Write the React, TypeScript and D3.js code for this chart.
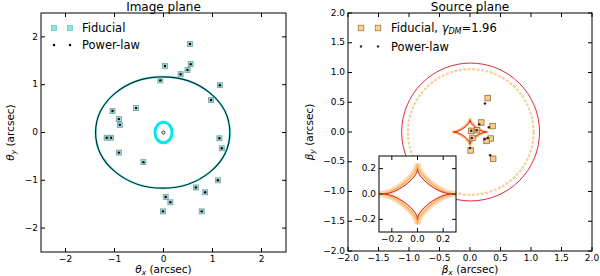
import * as d3 from "d3";

// image plane: lensed image positions (arcsec)
const imageFiducial: [number, number][] = [
  [0.54, 1.85], [0.555, 1.43], [0.03, 1.39], [0.49, 1.31], [0.35, 1.22],
  [-0.065, 1.09], [1.15, 0.99], [0.97, 0.68], [-1.04, 0.45], [-0.56, 0.51],
  [-0.91, 0.28], [-0.89, 0.16], [-1.16, -0.11], [-1.07, -0.11], [1.14, -0.12],
  [1.19, -0.33], [-0.91, -0.42], [-0.41, -0.62], [1.11, -1.0], [0.66, -1.15],
  [0.85, -1.25], [0.045, -1.35], [0.14, -1.46], [-0.01, -1.65], [0.78, -1.65],
];
const imagePowerLaw: [number, number][] = imageFiducial.map((p) => [p[0], p[1]]);
const imageCentre: [number, number] = [0, 0];

// critical curves: [cx, cy, rx, ry]
const critOuter = [-0.016, 0, 1.37, 1.165];
const critInner = [0, 0, 0.175, 0.215];

// source plane positions
const sourceFiducial: [number, number][] = [
  [0.29, 0.57], [0.185, 0.16], [0.37, 0.1], [0.115, 0.03], [0.02, 0.02],
  [0.04, -0.1], [0.34, -0.11], [0.27, -0.15], [0.01, -0.31], [0.38, -0.45],
];
const sourcePowerLaw: [number, number][] = [
  [0.245, 0.48], [0.15, 0.13], [0.31, 0.08], [0.02, 0.02], [0.11, 0.03],
  [0.03, -0.1], [0.24, -0.12], [0.29, -0.1], [0.0, -0.27], [0.33, -0.39],
];

// caustics: outer circles [cx, cy, r], astroids [a, b]
const causticRed = [0.01, 0, 1.13];
const causticFid = [0.013, 0, 1.03];
const astroidFid = [0.29, 0.23];
const astroidPL = [0.27, 0.2];
const astroidFidInset = [0.3, 0.24];

const imgTicks = [-2, -1, 0, 1, 2];
const srcTicks = [-2, -1.5, -1, -0.5, 0, 0.5, 1, 1.5, 2];
const insetTicks = [-0.2, 0, 0.2];

const FONT = "DejaVu Sans";
const minus = (s: string) => s.replace("-", "\u2212");

type Scale = d3.ScaleLinear<number, number>;

// astroid as four cubic curves between the cusps
const astroidPath = (x: Scale, y: Scale, a: number, b: number) => {
  const k = 0.61;
  const p = d3.path();
  const cusps: [number, number][] = [[a, 0], [0, b], [-a, 0], [0, -b]];
  p.moveTo(x(a), y(0));
  cusps.forEach((c, i) => {
    const n = cusps[(i + 1) % 4];
    p.bezierCurveTo(x(c[0] * k), y(c[1] * k), x(n[0] * k), y(n[1] * k), x(n[0]), y(n[1]));
  });
  p.closePath();
  return p.toString();
};

const Frame = ({ x, y, ticks, fmt, fs = 9 }: { x: Scale; y: Scale; ticks: number[]; fmt: (v: number) => string; fs?: number }) => {
  const [x0, x1] = x.range();
  const [y1, y0] = y.range();
  const tl = 4;
  return (
    <g fontFamily={FONT} fontSize={fs}>
      <rect x={x0} y={y0} width={x1 - x0} height={y1 - y0} fill="none" stroke="#000" strokeWidth={1} />
      {ticks.map((t) => (
        <g key={"x" + t}>
          <line x1={x(t)} x2={x(t)} y1={y1} y2={y1 - tl} stroke="#000" />
          <line x1={x(t)} x2={x(t)} y1={y0} y2={y0 + tl} stroke="#000" />
          <text x={x(t)} y={y1 + 10} textAnchor="middle">{minus(fmt(t))}</text>
        </g>
      ))}
      {ticks.map((t) => (
        <g key={"y" + t}>
          <line x1={x0} x2={x0 + tl} y1={y(t)} y2={y(t)} stroke="#000" />
          <line x1={x1} x2={x1 - tl} y1={y(t)} y2={y(t)} stroke="#000" />
          <text x={x0 - 3} y={y(t)} dy="0.3em" textAnchor="end">{minus(fmt(t))}</text>
        </g>
      ))}
    </g>
  );
};

const Label = ({ x, y, sym, sub, rotate }: { x: number; y: number; sym: string; sub: string; rotate?: boolean }) => (
  <text x={x} y={y} fontFamily={FONT} fontSize={10.5} textAnchor="middle" transform={rotate ? `rotate(-90 ${x} ${y})` : undefined}>
    <tspan fontStyle="italic">{sym}</tspan>
    <tspan fontStyle="italic" fontSize={7.5} dy={1.5}>{sub}</tspan>
    <tspan dy={-1.5}>{"  (arcsec)"}</tspan>
  </text>
);

export default function App() {
  const ix = d3.scaleLinear().domain([-2.5, 2.5]).range([41, 286]);
  const iy = d3.scaleLinear().domain([-2.5, 2.5]).range([252, 13]);
  const sx = d3.scaleLinear().domain([-2, 2]).range([348, 592]);
  const sy = d3.scaleLinear().domain([-2, 2]).range([251, 13]);
  const nx = d3.scaleLinear().domain([-0.3, 0.3]).range([379, 456]);
  const ny = d3.scaleLinear().domain([-0.3, 0.3]).range([232, 156]);

  const sq = 5;
  const ell = (x: Scale, y: Scale, e: number[]) => ({
    cx: x(e[0]), cy: y(e[1]),
    rx: Math.abs(x(e[0] + e[2]) - x(e[0])),
    ry: Math.abs(y(e[1] + (e[3] ?? e[2])) - y(e[1])),
  });

  return (
    <svg width={600} height={276} style={{ position: "absolute", left: 0, top: 0, background: "#fff" }}>
      <rect width={600} height={276} fill="#fff" />
      {/* ---------- image plane ---------- */}
      <text x={163.5} y={11} fontFamily={FONT} fontSize={12} textAnchor="middle">Image plane</text>
      <ellipse {...ell(ix, iy, critOuter)} fill="none" stroke="#00e8e8" strokeWidth={2.4} opacity={0.45} />
      <ellipse {...ell(ix, iy, critOuter)} fill="none" stroke="#002c2c" strokeWidth={1.2} />
      <ellipse {...ell(ix, iy, critInner)} fill="none" stroke="#00e8ee" strokeWidth={3} />
      {imageFiducial.map((p, i) => (
        <rect key={i} x={ix(p[0]) - sq / 2} y={iy(p[1]) - sq / 2} width={sq} height={sq} fill="#a4d6d6" stroke="#6aa4a4" strokeWidth={0.8} />
      ))}
      {imagePowerLaw.map((p, i) => (
        <circle key={i} cx={ix(p[0])} cy={iy(p[1])} r={1.2} fill="#000" />
      ))}
      <circle cx={ix(imageCentre[0])} cy={iy(imageCentre[1])} r={1.5} fill="#fff" stroke="#000" strokeWidth={0.8} />
      <Frame x={ix} y={iy} ticks={imgTicks} fmt={d3.format("d")} />
      <g fontFamily={FONT} fontSize={11.5}>
        {[54, 70].map((cx) => (
          <rect key={cx} x={cx - 2.5} y={28 - 2.5} width={5} height={5} fill="#8ee6e6" stroke="#6cc4c4" strokeWidth={0.8} />
        ))}
        <text x={82} y={28} dy="0.36em">Fiducial</text>
        {[54, 70].map((cx) => <circle key={cx} cx={cx} cy={45} r={1.2} fill="#000" />)}
        <text x={82} y={45} dy="0.36em">Power-law</text>
      </g>
      <Label x={163.5} y={273} sym="θ" sub="x" />
      <Label x={14} y={132.5} sym="θ" sub="y" rotate />

      {/* ---------- source plane ---------- */}
      <text x={470} y={11} fontFamily={FONT} fontSize={12} textAnchor="middle">Source plane</text>
      <circle cx={sx(causticRed[0])} cy={sy(causticRed[1])} r={sx(causticRed[2]) - sx(0)} fill="none" stroke="#e2283a" strokeWidth={1} />
      <circle cx={sx(causticFid[0])} cy={sy(causticFid[1])} r={sx(causticFid[2]) - sx(0)} fill="none" stroke="#f6c98a" strokeWidth={2.2} strokeDasharray="3 1.5" opacity={0.85} />
      <path d={astroidPath(sx, sy, astroidFid[0], astroidFid[1])} fill="none" stroke="#f8b47a" strokeWidth={3} opacity={0.6} />
      <path d={astroidPath(sx, sy, astroidFid[0], astroidFid[1])} fill="none" stroke="#ffa020" strokeWidth={1} />
      <path d={astroidPath(sx, sy, astroidPL[0], astroidPL[1])} fill="none" stroke="#d8202a" strokeWidth={0.9} />
      {sourceFiducial.map((p, i) => (
        <rect key={i} x={sx(p[0]) - 2.75} y={sy(p[1]) - 2.75} width={5.5} height={5.5} fill="#f2cf8e" stroke="#9a6e30" strokeWidth={0.8} />
      ))}
      {sourcePowerLaw.map((p, i) => (
        <circle key={i} cx={sx(p[0])} cy={sy(p[1])} r={1.3} fill="#4a1838" />
      ))}
      <Frame x={sx} y={sy} ticks={srcTicks} fmt={d3.format(".1f")} />
      <g fontFamily={FONT} fontSize={11.5}>
        {[361, 378].map((cx) => (
          <rect key={cx} x={cx - 2.75} y={28 - 2.75} width={5.5} height={5.5} fill="#f0d29a" stroke="#a87a3a" strokeWidth={0.8} />
        ))}
        <text x={391} y={28} dy="0.36em">
          Fiducial,{" "}
          <tspan fontStyle="italic">γ</tspan>
          <tspan fontStyle="italic" fontSize={8} dy={2}>DM</tspan>
          <tspan dy={-2}>=1.96</tspan>
        </text>
        {[361, 378].map((cx) => <circle key={cx} cx={cx} cy={46.5} r={1.2} fill="#4a1838" />)}
        <text x={391} y={46.5} dy="0.36em">Power-law</text>
      </g>
      <Label x={470} y={273} sym="β" sub="x" />
      <Label x={313} y={132} sym="β" sub="y" rotate />

      {/* ---------- inset ---------- */}
      <rect x={379} y={156} width={77} height={76} fill="#fff" />
      <path d={astroidPath(nx, ny, astroidFidInset[0], astroidFidInset[1])} fill="none" stroke="#f8b088" strokeWidth={6} opacity={0.55} />
      <path d={astroidPath(nx, ny, astroidFidInset[0], astroidFidInset[1])} fill="none" stroke="#ffb020" strokeWidth={1.2} opacity={0.9} />
      <path d={astroidPath(nx, ny, astroidPL[0], astroidPL[1])} fill="none" stroke="#d8202a" strokeWidth={1} />
      <Frame x={nx} y={ny} ticks={insetTicks} fmt={d3.format(".1f")} />
    </svg>
  );
}
